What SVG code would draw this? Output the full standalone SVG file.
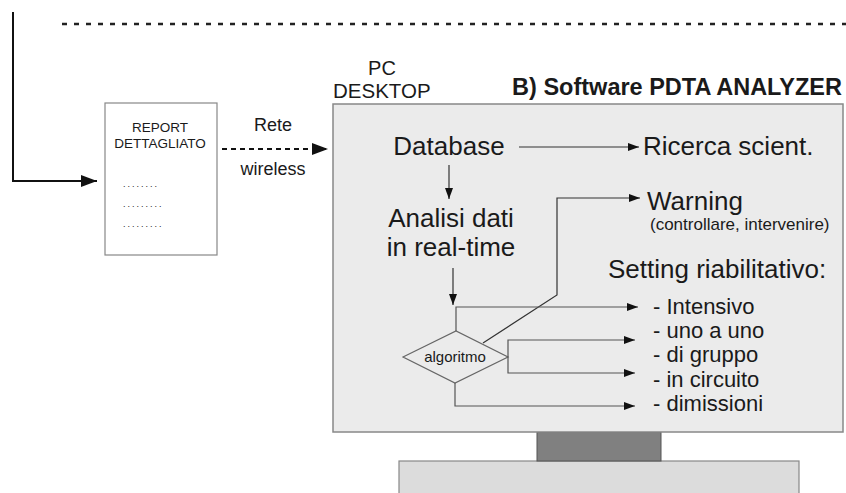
<svg xmlns="http://www.w3.org/2000/svg" width="846" height="493" viewBox="0 0 846 493">
<defs>
<style>
text{font-family:"Liberation Sans",Arial,sans-serif;fill:#1a1a1a}
.big{font-size:26px}
.lst{font-size:22px}
.ln{fill:none;stroke:#333;stroke-width:1.2}
.dg{fill:none;stroke:#555;stroke-width:1.2}
</style>
<marker id="a" markerWidth="11" markerHeight="8" refX="11" refY="4" orient="auto" markerUnits="userSpaceOnUse"><path d="M0,0 L11,4 L0,8 z" fill="#111"/></marker>
<marker id="b" markerWidth="16" markerHeight="12" refX="16" refY="6" orient="auto" markerUnits="userSpaceOnUse"><path d="M0,0 L16,6 L0,12 z" fill="#111"/></marker>
</defs>
<rect width="846" height="493" fill="#fff"/>

<g id="monitor">
<rect x="399" y="461" width="400" height="34" fill="#dcdcdc" stroke="#888" stroke-width="1.2"/>
<rect x="537" y="432" width="124" height="29" fill="#808080" stroke="#555" stroke-width="1"/>
<rect x="333" y="104" width="510" height="328" fill="#ebebeb" stroke="#888" stroke-width="1.5"/>
<text x="382" y="75" font-size="20" text-anchor="middle">PC</text>
<text x="333" y="98" font-size="20.5">DESKTOP</text>
<text x="842" y="95" font-size="23.5" font-weight="bold" text-anchor="end">B) Software PDTA ANALYZER</text>
</g>

<g id="report">
<rect x="105" y="103" width="112" height="152" fill="#fff" stroke="#888" stroke-width="1.2"/>
<text x="160" y="132" font-size="13.5" text-anchor="middle" fill="#333">REPORT</text>
<text x="160" y="148" font-size="13.5" text-anchor="middle" fill="#333">DETTAGLIATO</text>
<text x="123" y="187" font-size="9" letter-spacing="2" fill="#555">........</text>
<text x="123" y="207" font-size="9" letter-spacing="2" fill="#555">.........</text>
<text x="123" y="227" font-size="9" letter-spacing="2" fill="#555">.........</text>
</g>

<g id="labels">
<text x="273" y="131" font-size="18" text-anchor="middle">Rete</text>
<text x="273" y="175" font-size="18" text-anchor="middle">wireless</text>
</g>

<g id="database"><text x="449" y="155" class="big" text-anchor="middle">Database</text></g>
<g id="ricerca"><text x="643" y="155" class="big">Ricerca scient.</text></g>
<g id="warning">
<text x="647" y="210" class="big">Warning</text>
<text x="650" y="230" font-size="17">(controllare, intervenire)</text>
</g>
<g id="analisi">
<text x="451" y="227" class="big" text-anchor="middle">Analisi dati</text>
<text x="451" y="256" class="big" text-anchor="middle">in real-time</text>
</g>
<g id="setting">
<text x="608" y="278" class="big">Setting riabilitativo:</text>
<text x="653" y="314" class="lst">- Intensivo</text>
<text x="653" y="338" class="lst">- uno a uno</text>
<text x="653" y="362" class="lst">- di gruppo</text>
<text x="653" y="387" class="lst">- in circuito</text>
<text x="653" y="411" class="lst">- dimissioni</text>
</g>
<g id="algoritmo">
<polygon points="403,357 456,331 508,357 455,383" fill="#ebebeb" stroke="#666" stroke-width="1.2"/>
<text x="455" y="362" font-size="15" text-anchor="middle">algoritmo</text>
</g>

<g id="connectors">
<line x1="62" y1="24" x2="846" y2="24" stroke="#222" stroke-width="2.5" stroke-dasharray="5,7"/>
<polyline points="13,12 13,181 97,181" fill="none" stroke="#111" stroke-width="2" marker-end="url(#b)"/>
<line x1="222" y1="149" x2="328" y2="149" stroke="#111" stroke-width="2" stroke-dasharray="5,4" marker-end="url(#b)"/>
<line x1="519" y1="147" x2="639" y2="147" class="ln" marker-end="url(#a)"/>
<line x1="449" y1="165" x2="449" y2="199" class="ln" marker-end="url(#a)"/>
<line x1="453" y1="268" x2="453" y2="305" class="ln" marker-end="url(#a)"/>
<polyline points="483,343 557,295 557,198 640,198" class="ln" marker-end="url(#a)"/>
<polyline points="456,331 456,307 638,307" class="dg" marker-end="url(#a)"/>
<polyline points="508,357 508,340 635,340" class="dg" marker-end="url(#a)"/>
<polyline points="508,357 508,373 635,373" class="dg" marker-end="url(#a)"/>
<polyline points="455,383 455,406 635,406" class="dg" marker-end="url(#a)"/>
</g>
</svg>
